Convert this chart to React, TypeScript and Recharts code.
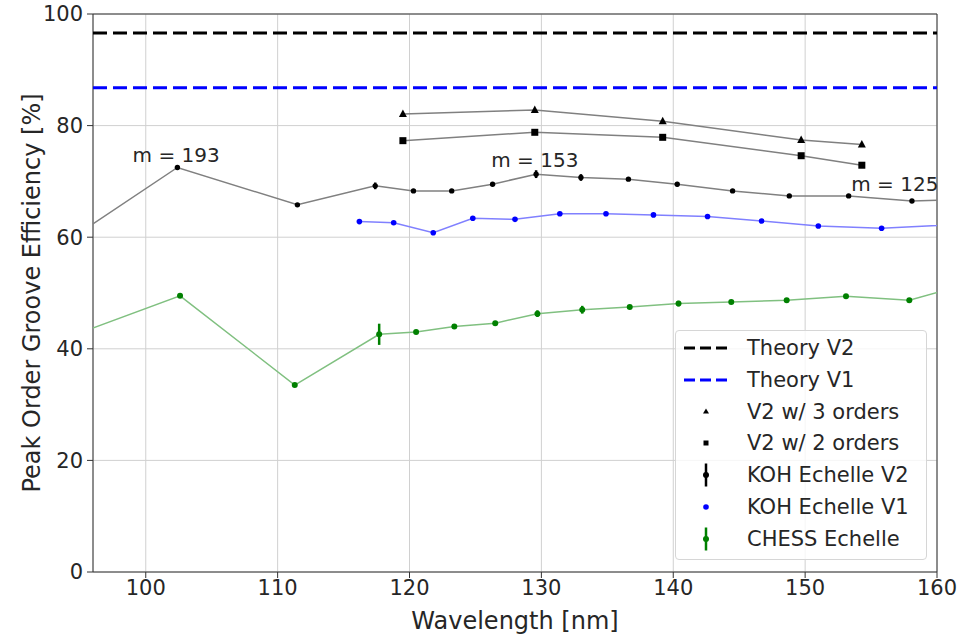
import {
  ComposedChart,
  Line,
  XAxis,
  YAxis,
  CartesianGrid,
  ReferenceLine,
  ReferenceArea,
  ReferenceDot,
  ErrorBar,
} from "recharts";

const FONT = "'DejaVu Sans', sans-serif";
const TEXT = "#262626";

// wavelength ticks [nm] and efficiency ticks [%]
const xTicks = [100, 110, 120, 130, 140, 150, 160];
const yTicks = [0, 20, 40, 60, 80, 100];

const theoryV2 = 96.6;
const theoryV1 = 86.8;

// KOH Echelle V2 (first/last points sit just outside the axes)
const kohV2Wl = [94.5, 102.4, 111.5, 117.4, 120.3, 123.2, 126.3, 129.6, 133.0, 136.6, 140.3, 144.5, 148.8, 153.3, 158.1, 163.3];
const kohV2Eff = [60.0, 72.5, 65.8, 69.2, 68.3, 68.3, 69.5, 71.3, 70.7, 70.4, 69.5, 68.3, 67.4, 67.4, 66.5, 66.8];
const kohV2Err = [0, 0, 0, 0.6, 0, 0, 0, 0.7, 0.6, 0, 0.4, 0, 0, 0, 0, 0];

// KOH Echelle V1
const kohV1Wl = [116.2, 118.8, 121.8, 124.8, 128.0, 131.4, 134.9, 138.5, 142.6, 146.7, 151.0, 155.8, 163.3];
const kohV1Eff = [62.8, 62.6, 60.8, 63.4, 63.2, 64.2, 64.2, 64.0, 63.7, 62.9, 62.0, 61.6, 62.5];

// CHESS Echelle
const chessWl = [94.5, 102.6, 111.3, 117.7, 120.5, 123.4, 126.5, 129.7, 133.1, 136.7, 140.4, 144.4, 148.6, 153.1, 157.9, 163.3];
const chessEff = [42.4, 49.5, 33.5, 42.6, 43.0, 44.0, 44.6, 46.3, 47.0, 47.5, 48.1, 48.4, 48.7, 49.4, 48.7, 52.3];
const chessErr = [0, 0, 0, 1.9, 0, 0, 0, 0.6, 0.7, 0, 0.5, 0, 0, 0, 0, 0];

// V2 with 3 / 2 orders
const v2Wl = [119.5, 129.5, 139.2, 149.7, 154.3];
const v2ThreeEff = [82.1, 82.8, 80.8, 77.4, 76.6];
const v2TwoEff = [77.3, 78.8, 77.9, 74.6, 72.9];

// order annotations
const annotWl = [99.0, 126.2, 153.5];
const annotEff = [73.5, 72.6, 68.2];
const annotText = ["m = 193", "m = 153", "m = 125"];

const legendLabels = [
  "Theory V2",
  "Theory V1",
  "V2 w/ 3 orders",
  "V2 w/ 2 orders",
  "KOH Echelle V2",
  "KOH Echelle V1",
  "CHESS Echelle",
];

const zip = (xs: number[], ys: number[], errs?: number[]) =>
  xs.map((x, i) => ({ x, y: ys[i], err: errs ? errs[i] : 0 }));

const kohV2Data = zip(kohV2Wl, kohV2Eff, kohV2Err);
const kohV1Data = zip(kohV1Wl, kohV1Eff);
const chessData = zip(chessWl, chessEff, chessErr);
const v2ThreeData = zip(v2Wl, v2ThreeEff);
const v2TwoData = zip(v2Wl, v2TwoEff);

const dotFn = (fill: string, r: number) => (p: any) => (
  <circle key={`d-${p.index}`} cx={p.cx} cy={p.cy} r={r} fill={fill} />
);

const triangle = (p: any) => (
  <path
    key={`t-${p.index}`}
    d={`M${p.cx},${p.cy - 4.5} L${p.cx - 4},${p.cy + 3} L${p.cx + 4},${p.cy + 3} Z`}
    fill="#000"
  />
);

const square = (p: any) => (
  <rect key={`s-${p.index}`} x={p.cx - 3.5} y={p.cy - 3.5} width={7} height={7} fill="#000" />
);

function LegendHandle({ i }: { i: number }) {
  const c = 23;
  let el = null;
  if (i === 0 || i === 1) {
    el = (
      <line x1={1} x2={44} y1={16} y2={16} stroke={i === 0 ? "#000" : "#0000ff"} strokeWidth={3} strokeDasharray="11 5" />
    );
  } else if (i === 2) {
    el = <path d={`M${c},12.5 L${c - 3},17.5 L${c + 3},17.5 Z`} fill="#000" />;
  } else if (i === 3) {
    el = <rect x={c - 2.5} y={13.5} width={5} height={5} fill="#000" />;
  } else if (i === 5) {
    el = <circle cx={c} cy={16} r={2.8} fill="#0000ff" />;
  } else {
    const col = i === 4 ? "#000" : "#008000";
    el = (
      <g>
        <line x1={c} x2={c} y1={4.5} y2={27.5} stroke={col} strokeWidth={2.5} />
        <circle cx={c} cy={16} r={3} fill={col} />
      </g>
    );
  }
  return (
    <svg width={46} height={32} style={{ position: "absolute", left: 7, top: 0 }}>
      {el}
    </svg>
  );
}

export default function App() {
  return (
    <div style={{ position: "absolute", left: 0, top: 0, width: 958, height: 635, background: "#fff", fontFamily: FONT }}>
      <ComposedChart width={958} height={635} margin={{ top: 14, right: 21, bottom: 3, left: 33 }}>
        <CartesianGrid stroke="#d0d0d0" strokeWidth={1} />
        <XAxis
          type="number"
          dataKey="x"
          domain={[96, 160]}
          ticks={xTicks}
          allowDataOverflow
          height={60}
          tickSize={6}
          tickMargin={2}
          axisLine={false}
          tickLine={{ stroke: "#333" }}
          tick={{ fontSize: 21, fill: TEXT, fontFamily: FONT }}
          label={{
            content: () => (
              <text x={515} y={629} textAnchor="middle" fontSize={24} fill={TEXT} fontFamily={FONT}>
                Wavelength [nm]
              </text>
            ),
          }}
        />
        <YAxis
          type="number"
          domain={[0, 100]}
          ticks={yTicks}
          allowDataOverflow
          width={60}
          tickSize={6}
          tickMargin={4}
          axisLine={false}
          tickLine={{ stroke: "#333" }}
          tick={{ fontSize: 21, fill: TEXT, fontFamily: FONT }}
          label={{
            content: () => (
              <text
                x={40}
                y={293}
                transform="rotate(-90 40 293)"
                textAnchor="middle"
                fontSize={24}
                fill={TEXT}
                fontFamily={FONT}
              >
                Peak Order Groove Efficiency [%]
              </text>
            ),
          }}
        />
        <ReferenceLine y={theoryV2} stroke="#000" strokeWidth={3} strokeDasharray="14 6" />
        <ReferenceLine y={theoryV1} stroke="#0000ff" strokeWidth={3} strokeDasharray="14 6" />

        <Line
          data={chessData}
          dataKey="y"
          stroke="#80c080"
          strokeWidth={1.5}
          dot={dotFn("#008000", 3)}
          activeDot={false}
          isAnimationActive={false}
        >
          <ErrorBar dataKey="err" direction="y" width={0} stroke="#008000" strokeWidth={2.5} />
        </Line>
        <Line
          data={kohV1Data}
          dataKey="y"
          stroke="#8080ff"
          strokeWidth={1.5}
          dot={dotFn("#0000ff", 2.8)}
          activeDot={false}
          isAnimationActive={false}
        />
        <Line
          data={kohV2Data}
          dataKey="y"
          stroke="#808080"
          strokeWidth={1.5}
          dot={dotFn("#000", 2.7)}
          activeDot={false}
          isAnimationActive={false}
        >
          <ErrorBar dataKey="err" direction="y" width={0} stroke="#000" strokeWidth={2.5} />
        </Line>
        <Line
          data={v2TwoData}
          dataKey="y"
          stroke="#808080"
          strokeWidth={1.5}
          dot={square}
          activeDot={false}
          isAnimationActive={false}
        />
        <Line
          data={v2ThreeData}
          dataKey="y"
          stroke="#808080"
          strokeWidth={1.5}
          dot={triangle}
          activeDot={false}
          isAnimationActive={false}
        />

        {annotText.map((t, i) => (
          <ReferenceDot
            key={t}
            x={annotWl[i]}
            y={annotEff[i]}
            r={0}
            shape={(p: any) => (
              <text x={p.cx} y={p.cy} fontSize={20} fill={TEXT} fontFamily={FONT}>
                {t}
              </text>
            )}
          />
        ))}

        <ReferenceArea
          x1={96}
          x2={160}
          y1={0}
          y2={100}
          fill="none"
          stroke="#333"
          strokeWidth={1}
          ifOverflow="visible"
        />
      </ComposedChart>

      <div
        style={{
          position: "absolute",
          left: 675,
          top: 330,
          width: 250,
          height: 228,
          border: "1px solid #d6d6d6",
          borderRadius: 4,
          background: "rgba(255,255,255,0.8)",
        }}
      >
        {legendLabels.map((label, i) => (
          <div key={label} style={{ position: "absolute", left: 0, top: 0.7 + 31.93 * i, height: 32, width: 250 }}>
            <LegendHandle i={i} />
            <span
              style={{
                position: "absolute",
                left: 71,
                top: 0,
                lineHeight: "32px",
                fontSize: 21,
                color: TEXT,
                whiteSpace: "nowrap",
              }}
            >
              {label}
            </span>
          </div>
        ))}
      </div>
    </div>
  );
}
